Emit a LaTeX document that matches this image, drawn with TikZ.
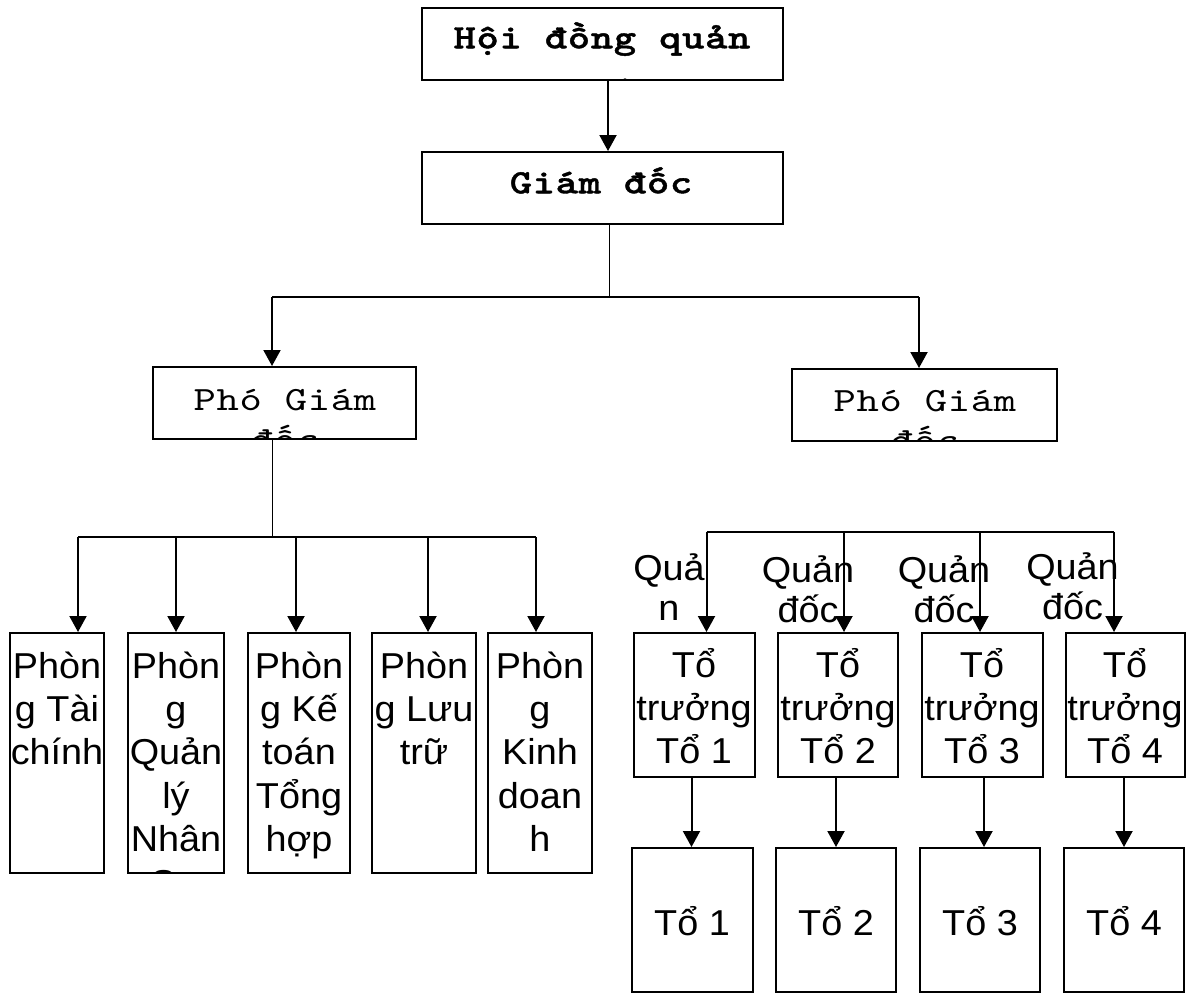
\documentclass[tikz,border=0pt]{standalone}
\usepackage{fontspec}
\setmainfont{Liberation Sans}[FakeStretch=1.05]
\newfontfamily\typewriter{lmmono10-regular}[Extension=.otf, FakeStretch=1.25, LetterSpace=2,
  BoldFont=lmmonolt10-bold, BoldFeatures={FakeStretch=1.25, LetterSpace=2, FakeBold=1.2}]
\usetikzlibrary{arrows.meta,calc}

% multi-line centred text; the node's base anchor is the first baseline
\newcommand{\sanslines}[2][43.4]{\parbox[t]{240pt}{\centering\fontsize{36}{#1}\selectfont\lineskiplimit=-100pt\relax #2}}
\newcommand{\monolines}[2][40]{\parbox[t]{400pt}{\centering\typewriter\fontsize{34}{#1}\selectfont\lineskiplimit=-100pt\relax #2}}
% text kept inside the frame of a box
\newcommand{\boxtext}[4]{%
  \begin{scope}
    \clip ([shift={(2pt,2pt)}]#1.south west) rectangle ([shift={(-2pt,-2pt)}]#1.north east);
    \node[txt] (#2) at #3 {#4};
  \end{scope}}

\tikzset{
  box/.style={draw, line width=2pt, rectangle, inner sep=0pt},
  txt/.style={anchor=base, inner sep=0pt},
  ln/.style={line width=2pt},
  thinln/.style={line width=1pt},
  arr/.style={line width=2pt, -{Triangle[width=17pt,length=16pt]}},
}

\begin{document}
\begin{tikzpicture}[x=1pt, y=-1pt]
\useasboundingbox (0,0) rectangle (1186,994);

% ---- management levels
\node[box, minimum width=361pt, minimum height=72pt] (HD) at (602.5,44) {};
\node[box, minimum width=361pt, minimum height=72pt] (GD) at (602.5,188) {};
\node[box, minimum width=263pt, minimum height=72pt] (PGL) at (284.5,403) {};
\node[box, minimum width=265pt, minimum height=72pt] (PGR) at (924.5,405) {};

\boxtext{HD}{HD-t}{(602,48.3)}{\monolines[51]{\bfseries Hội đồng quản\\trị}}
\boxtext{GD}{GD-t}{(601,193.3)}{\monolines{\bfseries Giám đốc}}
\boxtext{PGL}{PGL-t}{(285,410.5)}{\monolines{Phó Giám\\đốc}}
\boxtext{PGR}{PGR-t}{(925,411.7)}{\monolines{Phó Giám\\đốc}}

% ---- departments
\foreach \nm/\cx/\w in {P1/57/94, P2/176/96, P3/299/102, P4/424/104, P5/540/104}
  \node[box, minimum width=\w pt, minimum height=240pt] (\nm) at (\cx,753) {};

\boxtext{P1}{P1-t}{(57,678)}{\sanslines{Phòn\\g Tài\\chính}}
\boxtext{P2}{P2-t}{(176,678)}{\sanslines{Phòn\\g\\Quản\\lý\\Nhân\\Sự}}
\boxtext{P3}{P3-t}{(299,678)}{\sanslines{Phòn\\g Kế\\toán\\Tổng\\hợp}}
\boxtext{P4}{P4-t}{(424,678)}{\sanslines{Phòn\\g Lưu\\trữ}}
\boxtext{P5}{P5-t}{(540,678)}{\sanslines{Phòn\\g\\Kinh\\doan\\h}}

% ---- team leaders and teams
\foreach \nm/\cx/\w in {TT1/694/121, TT2/838/120, TT3/982/121, TT4/1125/119}
  \node[box, minimum width=\w pt, minimum height=144pt] (\nm) at (\cx,705) {};
\foreach \nm/\cx/\w in {T1/692/121, T2/836/120, T3/980/120, T4/1124/120}
  \node[box, minimum width=\w pt, minimum height=144pt] (\nm) at (\cx,920) {};

\foreach \i/\cx in {1/694, 2/838, 3/982, 4/1125}
  \boxtext{TT\i}{TT\i-t}{(\cx,677)}{\sanslines{Tổ\\trưởng\\Tổ \i}};
\foreach \i/\cx in {1/692, 2/836, 3/980, 4/1124}
  \boxtext{T\i}{T\i-t}{(\cx,935)}{\sanslines{Tổ \i}};

% ---- foreman labels
\node[txt] (Q1) at (669,580) {\sanslines[40]{Quả\\n}};
\node[txt] (Q2) at (808,582) {\sanslines[40]{Quản\\đốc}};
\node[txt] (Q3) at (944,582) {\sanslines[40]{Quản\\đốc}};
\node[txt] (Q4) at (1072.5,579) {\sanslines[40]{Quản\\đốc}};

% ---- connectors
\draw[arr] ([xshift=5.5pt]HD.south) -- ([xshift=5.5pt]GD.north);

\coordinate (busT) at (609,297);
\draw[thinln] ([xshift=6.5pt]GD.south) -- (busT);
\draw[ln] ([xshift=-12.5pt]PGL.north |- busT) -- ([xshift=-5.5pt]PGR.north |- busT);
\draw[arr] ([xshift=-12.5pt]PGL.north |- busT) -- ([xshift=-12.5pt]PGL.north);
\draw[arr] ([xshift=-5.5pt]PGR.north |- busT) -- ([xshift=-5.5pt]PGR.north);

\coordinate (busL) at (272,537);
\draw[thinln] ([xshift=-12.5pt]PGL.south) -- (busL);
\draw[ln] ([xshift=21pt]P1.north |- busL) -- ([xshift=-4pt]P5.north |- busL);
\foreach \nm/\s in {P1/21, P2/0, P3/-3, P4/4, P5/-4}
  \draw[arr] ([xshift=\s pt]\nm.north |- busL) -- ([xshift=\s pt]\nm.north);

\coordinate (busR) at (706,532);
\draw[ln] ([xshift=12.5pt]TT1.north |- busR) -- ([xshift=-11pt]TT4.north |- busR);
\foreach \nm/\s in {TT1/12.5, TT2/6, TT3/-2, TT4/-11}
  \draw[arr] ([xshift=\s pt]\nm.north |- busR) -- ([xshift=\s pt]\nm.north);

\draw[arr] ([xshift=-2.5pt]TT1.south) -- ([xshift=-0.5pt]T1.north);
\draw[arr] ([xshift=-2pt]TT2.south) -- (T2.north);
\draw[arr] ([xshift=2pt]TT3.south) -- ([xshift=4pt]T3.north);
\draw[arr] ([xshift=-1pt]TT4.south) -- (T4.north);
\end{tikzpicture}
\end{document}
